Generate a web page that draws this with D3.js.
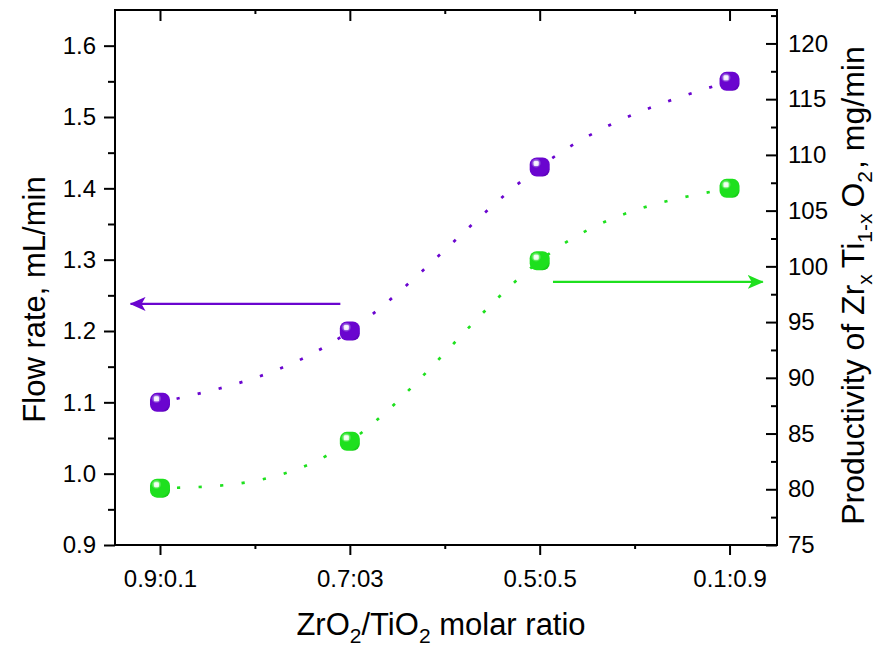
<!DOCTYPE html>
<html>
<head>
<meta charset="utf-8">
<script src="https://cdn.jsdelivr.net/npm/d3@7"></script>
<style>
  html, body { margin: 0; padding: 0; background: #fff; }
  svg { display: block; font-family: "Liberation Sans", Arial, sans-serif; }
</style>
</head>
<body>
<svg id="chart" width="879" height="646"></svg>
<script>
// Categories along the x axis (ZrO2/TiO2 molar ratio)
const categories = ["0.9:0.1", "0.7:03", "0.5:0.5", "0.1:0.9"];
// Flow rate, mL/min (left axis)
const flowRate = [1.10, 1.20, 1.43, 1.55];
// Productivity, mg/min (right axis)
const productivity = [80.1, 84.3, 100.5, 107.0];
// Tick values
const leftTicks = [0.9, 1.0, 1.1, 1.2, 1.3, 1.4, 1.5, 1.6];
const leftMinor = [0.95, 1.05, 1.15, 1.25, 1.35, 1.45, 1.55];
const rightTicks = [75, 80, 85, 90, 95, 100, 105, 110, 115, 120];
const rightMinor = [77.5, 82.5, 87.5, 92.5, 97.5, 102.5, 107.5, 112.5, 117.5, 122.5];
const xMinor = [0.5, 1.5, 2.5];

const purple = "#6a05cf";
const green = "#1ee01e";

const svg = d3.select("#chart");
const L = 115, R = 777, T = 10, B = 545;

const x = d3.scaleLinear().domain([-0.237, 3.25]).range([L, R]);
const yL = d3.scaleLinear().domain([0.9, 1.65]).range([B, T]);
const yR = d3.scaleLinear().domain([75, 123]).range([B, T]);

const defs = svg.append("defs");
// glossy fill: flat body colour with a pale highlight toward the upper left
function glossy(id, light, base, dark) {
  const g = defs.append("radialGradient").attr("id", id)
    .attr("cx", "32%").attr("cy", "30%").attr("r", "80%");
  g.append("stop").attr("offset", "0%").attr("stop-color", "#ffffff");
  g.append("stop").attr("offset", "14%").attr("stop-color", light);
  g.append("stop").attr("offset", "32%").attr("stop-color", base);
  g.append("stop").attr("offset", "85%").attr("stop-color", base);
  g.append("stop").attr("offset", "100%").attr("stop-color", dark);
}
glossy("gPurple", "#b596ea", purple, "#5a00b8");
glossy("gGreen", "#9ef59a", green, "#14c814");

// arrow heads with swept-back barbs
function arrowHead(id, color) {
  defs.append("marker").attr("id", id)
    .attr("viewBox", "0 0 16 14").attr("refX", 15).attr("refY", 7)
    .attr("markerWidth", 16).attr("markerHeight", 14)
    .attr("markerUnits", "userSpaceOnUse").attr("orient", "auto")
    .append("path").attr("d", "M0,0 L16,7 L0,14 L4,7 Z").attr("fill", color);
}
arrowHead("aPurple", purple);
arrowHead("aGreen", green);

const axisW = 2;
const tickFont = 24;

// bottom
svg.append("g").attr("transform", `translate(0,${B})`)
  .call(d3.axisBottom(x).tickValues(d3.range(categories.length)).tickFormat(i => categories[i])
    .tickSize(10).tickPadding(15))
  .call(g => g.select(".domain").remove())
  .call(g => g.selectAll("line").attr("stroke-width", axisW))
  .call(g => g.selectAll("text").attr("font-size", tickFont).attr("fill", "#000"));
svg.append("g").attr("transform", `translate(0,${B})`)
  .call(d3.axisBottom(x).tickValues(xMinor).tickFormat("").tickSize(4))
  .call(g => g.select(".domain").remove())
  .call(g => g.selectAll("line").attr("stroke-width", axisW));
// top (inward)
svg.append("g").attr("transform", `translate(0,${T})`)
  .call(d3.axisTop(x).tickValues(d3.range(categories.length)).tickFormat("").tickSize(-11))
  .call(g => g.select(".domain").remove())
  .call(g => g.selectAll("line").attr("stroke-width", axisW));
svg.append("g").attr("transform", `translate(0,${T})`)
  .call(d3.axisTop(x).tickValues(xMinor).tickFormat("").tickSize(-4))
  .call(g => g.select(".domain").remove())
  .call(g => g.selectAll("line").attr("stroke-width", axisW));
// left (outward)
svg.append("g").attr("transform", `translate(${L},0)`)
  .call(d3.axisLeft(yL).tickValues(leftTicks).tickFormat(d3.format(".1f")).tickSize(11).tickPadding(8))
  .call(g => g.select(".domain").remove())
  .call(g => g.selectAll("line").attr("stroke-width", axisW))
  .call(g => g.selectAll("text").attr("font-size", tickFont).attr("fill", "#000"));
svg.append("g").attr("transform", `translate(${L},0)`)
  .call(d3.axisLeft(yL).tickValues(leftMinor).tickFormat("").tickSize(7))
  .call(g => g.select(".domain").remove())
  .call(g => g.selectAll("line").attr("stroke-width", axisW));
// right (inward ticks, labels outside)
svg.append("g").attr("transform", `translate(${R},0)`)
  .call(d3.axisRight(yR).tickValues(rightTicks).tickFormat(d3.format("d")).tickSize(-11).tickPadding(11))
  .call(g => g.select(".domain").remove())
  .call(g => g.selectAll("line").attr("stroke-width", axisW))
  .call(g => g.selectAll("text").attr("font-size", tickFont).attr("fill", "#000"));
svg.append("g").attr("transform", `translate(${R},0)`)
  .call(d3.axisRight(yR).tickValues(rightMinor).tickFormat("").tickSize(-6))
  .call(g => g.select(".domain").remove())
  .call(g => g.selectAll("line").attr("stroke-width", axisW));

// frame
svg.append("rect").attr("x", L).attr("y", T).attr("width", R - L).attr("height", B - T)
  .attr("fill", "none").attr("stroke", "#000").attr("stroke-width", axisW);

// dotted spline curves
const idx = d3.range(categories.length);
function curve(vals, ys, color) {
  const line = d3.line().x(i => x(i)).y(i => ys(vals[i])).curve(d3.curveNatural);
  svg.append("path").attr("d", line(idx))
    .attr("fill", "none").attr("stroke", color).attr("stroke-width", 2.7)
    .attr("stroke-dasharray", "3.2,18.4").attr("stroke-dashoffset", -17);
}
curve(flowRate, yL, purple);
curve(productivity, yR, green);

// markers
function markers(vals, ys, grad) {
  const g = svg.append("g");
  const m = g.selectAll("g").data(idx).join("g")
    .attr("transform", i => `translate(${x(i)},${ys(vals[i])})`);
  m.append("rect").attr("x", -10).attr("y", -9.5).attr("width", 20).attr("height", 19)
    .attr("rx", 7).attr("ry", 7).attr("fill", `url(#${grad})`);
  m.append("rect").attr("x", -6).attr("y", -6).attr("width", 5).attr("height", 5)
    .attr("rx", 1.2).attr("fill", "#fff").attr("opacity", 0.8);
}
markers(flowRate, yL, "gPurple");
markers(productivity, yR, "gGreen");

// arrows pointing each series to its axis
svg.append("line")
  .attr("x1", x(0.95)).attr("x2", x(-0.155))
  .attr("y1", yL(1.238)).attr("y2", yL(1.238))
  .attr("stroke", purple).attr("stroke-width", 2.2).attr("marker-end", "url(#aPurple)");
svg.append("line")
  .attr("x1", x(2.07)).attr("x2", x(3.175))
  .attr("y1", yR(98.6)).attr("y2", yR(98.6))
  .attr("stroke", green).attr("stroke-width", 2.2).attr("marker-end", "url(#aGreen)");

// axis titles
const titleFont = 31, subFont = 21, subDy = 8;
svg.append("text")
  .attr("transform", `translate(${(L + R) / 2 - 5},635)`)
  .attr("text-anchor", "middle").attr("font-size", titleFont)
  .html(`ZrO<tspan font-size="${subFont}" dy="${subDy}">2</tspan><tspan dy="${-subDy}">/TiO</tspan><tspan font-size="${subFont}" dy="${subDy}">2</tspan><tspan dy="${-subDy}"> molar ratio</tspan>`);

svg.append("text")
  .attr("transform", `translate(45,${(T + B) / 2 + 22}) rotate(-90)`)
  .attr("text-anchor", "middle").attr("font-size", titleFont)
  .text("Flow rate, mL/min");

svg.append("text")
  .attr("transform", `translate(864,${(T + B) / 2 + 8}) rotate(-90)`)
  .attr("text-anchor", "middle").attr("font-size", 32)
  .html(`Productivity of Zr<tspan font-size="${subFont}" dy="${subDy}">x</tspan><tspan dx="6" dy="${-subDy}">Ti</tspan><tspan font-size="${subFont}" dy="${subDy}">1-x</tspan><tspan dx="6" dy="${-subDy}">O</tspan><tspan font-size="${subFont}" dy="${subDy}">2</tspan><tspan dx="2" dy="${-subDy}">,  mg/min</tspan>`);
</script>
</body>
</html>
